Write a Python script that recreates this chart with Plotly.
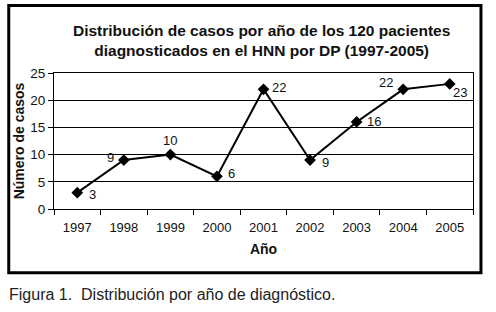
import plotly.graph_objects as go

years = ["1997", "1998", "1999", "2000", "2001", "2002", "2003", "2004", "2005"]
cases = [3, 9, 10, 6, 22, 9, 16, 22, 23]
y_ticks = [0, 5, 10, 15, 20, 25]

title_text = "<b>Distribución de casos por año de los 120 pacientes<br>diagnosticados en el HNN por DP (1997-2005)</b>"
x_title = "Año"
y_title = "Número de casos"
caption = "Figura 1.  Distribución por año de diagnóstico."

# label offsets in pixels (style only)
label_dx = [15, -13, 0, 15, 15, 15, 17, -17, 10]
label_dy = [-2, 3, 14, 3, 2, -2, 0, 7, -9]

FONT = "Liberation Sans, Arial, sans-serif"

fig = go.Figure()
fig.add_trace(go.Scatter(
    x=years, y=cases, mode="lines+markers",
    line=dict(color="black", width=2),
    marker=dict(symbol="diamond", size=9, color="black"),
    showlegend=False, hoverinfo="skip",
))

for i, (v, dx, dy) in enumerate(zip(cases, label_dx, label_dy)):
    fig.add_annotation(x=i, y=v, text=str(v), showarrow=False,
                       xshift=dx, yshift=dy,
                       font=dict(family=FONT, size=13, color="#111"))

fig.add_annotation(xref="paper", yref="paper", x=0.496, y=1.24,
                   text=title_text, showarrow=False, align="center",
                   xanchor="center", yanchor="middle",
                   font=dict(family=FONT, size=15.5, color="#111"))

fig.add_annotation(xref="paper", yref="paper", x=-0.112, y=-0.632,
                   text=caption, showarrow=False, align="left",
                   xanchor="left", yanchor="middle",
                   font=dict(family=FONT, size=16, color="#222"))

# outer frame
fig.add_shape(type="rect", xref="paper", yref="paper",
              x0=-0.108, x1=1.019, y0=-0.468, y1=1.497,
              line=dict(color="black", width=3), layer="above")

fig.update_layout(
    width=496, height=312,
    margin=dict(l=54, r=23, t=73, b=103),
    paper_bgcolor="white", plot_bgcolor="white",
    font=dict(family=FONT, color="#111"),
    xaxis=dict(
        type="category", tickson="boundaries",
        categoryorder="array", categoryarray=years,
        range=[-0.5, len(years) - 0.5],
        ticks="outside", ticklen=5, tickcolor="black", tickwidth=1,
        showline=True, linecolor="black", linewidth=1, mirror=True,
        showgrid=False, tickfont=dict(size=13, family=FONT), tickangle=0,
        ticklabelstandoff=6,
        title=dict(text="<b>" + x_title + "</b>", font=dict(size=14, family=FONT), standoff=10),
    ),
    yaxis=dict(
        range=[0, 25], tickvals=y_ticks,
        ticks="outside", ticklen=5, tickcolor="black", tickwidth=1,
        showline=True, linecolor="black", linewidth=1, mirror=True,
        showgrid=True, gridcolor="black", gridwidth=1, zeroline=False,
        tickfont=dict(size=13.5, family=FONT),
        title=dict(text="<b>" + y_title + "</b>", font=dict(size=14, family=FONT), standoff=2),
    ),
)

fig.write_html("out.html", config={"displayModeBar": False},
               post_script="document.body.style.margin='0';")
